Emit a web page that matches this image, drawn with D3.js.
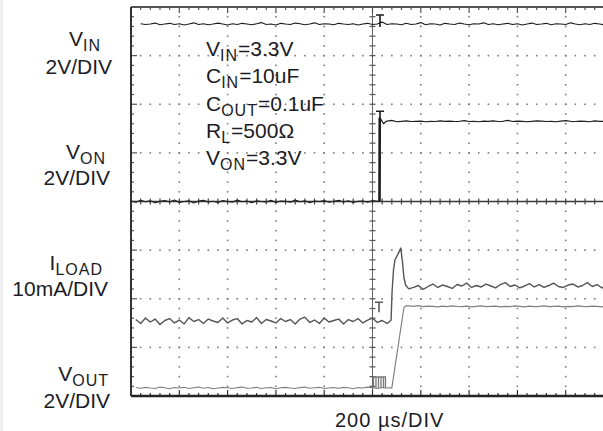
<!DOCTYPE html>
<html>
<head>
<meta charset="utf-8">
<script src="https://cdn.jsdelivr.net/npm/d3@7"></script>
<style>
html, body { margin: 0; padding: 0; background: #fff; }
svg { display: block; }
text { font-family: "Liberation Sans", Arial, sans-serif; fill: #1c1c26; }
</style>
</head>
<body>
<svg width="603" height="431"></svg>
<script>
// scope sample interval, µs
const sampleStep = 20;

// V_IN (V), samples from -960 µs
const vinStart = -960;
const vinTrace = [
    3.31,3.28,3.30,3.34,3.27,3.30,3.33,3.28,3.31,3.26,
    3.30,3.35,3.28,3.31,3.27,3.30,3.34,3.30,3.26,3.31,
    3.28,3.33,3.30,3.27,3.31,3.36,3.28,3.30,3.26,3.33,
    3.30,3.28,3.34,3.31,3.27,3.30,3.35,3.28,3.31,3.30,
    3.27,3.33,3.30,3.28,3.31,3.26,3.30,3.33,3.28,3.30,
    3.38,3.28,3.31,3.30,3.27,3.33,3.28,3.30,3.36,3.27,
    3.31,3.30,3.26,3.33,3.30,3.28,3.34,3.30,3.27,3.31,
    3.30,3.35,3.28,3.31,3.27,3.30,3.33,3.28,3.31,3.26,
    3.30,3.34,3.28,3.30,3.33,3.27,3.31,3.30,3.28,3.35,
    3.30,3.27,3.31,3.28,3.33,3.30,3.27,3.31,3.30,3.28
];

// V_ON (V): low part from -1000 µs, edge, high part from 60 µs
const vonLowStart = -1000;
const vonLow = [
    0.02,-0.03,0.05,-0.01,0.03,-0.05,0.01,0.04,-0.02,0.06,
    -0.04,0.00,0.03,-0.06,0.02,0.05,-0.02,0.01,-0.04,0.04,
    0.00,-0.03,0.06,-0.01,0.02,-0.05,0.03,0.00,-0.02,0.05,
    -0.04,0.02,0.01,-0.03,0.06,-0.01,0.03,-0.05,0.02,0.00,
    0.04,-0.03,0.01,0.05,-0.02,0.03,-0.04,0.01,0.02,-0.03,
    0.04,0.01
];
const vonEdge = [[29, 0.02], [30, 3.45], [36, 3.36], [46, 3.20], [54, 3.28]];
const vonHighStart = 60;
const vonHigh = [
    3.31,3.34,3.28,3.30,3.32,3.29,3.30,3.31,3.28,
    3.30,3.29,3.32,3.30,3.31,3.29,3.30,3.33,3.29,3.30,
    3.28,3.31,3.30,3.32,3.29,3.30,3.34,3.29,3.31,3.30,
    3.28,3.30,3.32,3.31,3.29,3.30,3.28,3.31,3.33,3.30,
    3.29,3.31,3.30,3.28,3.32,3.30,3.29,3.31,3.30
];

// I_LOAD (mA)
const iloadLowStart = -980;
const iloadLow = [
    0.3,-0.5,0.6,-0.2,0.4,-0.7,0.1,0.5,-0.4,0.2,
    -0.6,0.7,-0.1,0.3,-0.5,0.4,0.0,-0.3,0.6,-0.4,
    0.2,0.5,-0.6,0.1,-0.2,0.7,-0.5,0.3,0.0,-0.4,
    0.5,-0.1,0.3,-0.6,0.4,0.8,-0.3,0.2,-0.5,0.6,
    -0.2,0.1,0.4,-0.6,0.3,-0.1,0.5,-0.4,0.2,0.6,
    -0.3,0.1,-0.5
];
const iloadEdge = [[66, -0.3], [77, 0.2], [81, 6.0], [87, 10.5], [93, 12.6], [106, 13.8],
    [117, 15.0], [124, 12.2], [130, 9.0], [137, 7.4]];
const iloadHighStart = 150;
const iloadHigh = [
    6.6,6.9,7.3,6.5,7.1,7.6,6.9,7.4,7.1,6.7,
    7.5,7.2,7.8,6.9,7.3,7.0,7.6,7.2,6.8,7.5,
    7.9,7.1,7.4,6.8,7.2,7.7,7.0,7.5,6.9,7.3,
    7.8,7.1,6.9,7.4,7.6,7.0,7.3,7.9,7.1,7.5,
    6.8,7.3,7.6,7.2
];

// V_OUT (V)
const voutLowStart = -980;
const voutLow = [
    0.02,-0.01,0.03,0.00,-0.02,0.04,0.01,-0.03,0.02,0.00,
    0.03,-0.02,0.01,0.04,-0.01,0.02,-0.03,0.00,0.03,0.01,
    -0.02,0.02,0.04,-0.01,0.00,0.03,-0.02,0.01,0.02,-0.03,
    0.01,0.03,0.00,-0.02,0.02,0.04,-0.01,0.01,0.03,-0.02,
    0.00,0.02,-0.01,0.03,0.01,-0.03,0.02,0.00,0.04,0.01,
    -0.02,0.02,0.00
];
const voutEdge = [[70, 0.01], [80, 0.00], [130, 3.30], [137, 3.38]];
const voutHighStart = 150;
const voutHigh = [
    3.38,3.36,3.39,3.35,3.37,3.36,3.34,3.37,3.35,3.38,
    3.36,3.35,3.37,3.34,3.36,3.38,3.35,3.36,3.37,3.34,
    3.36,3.35,3.38,3.36,3.34,3.37,3.35,3.36,3.38,3.35,
    3.36,3.37,3.34,3.36,3.35,3.38,3.36,3.35,3.37,3.36,
    3.34,3.36,3.37,3.35
];

// labels
const channelNames = [["V", "IN"], ["V", "ON"], ["I", "LOAD"], ["V", "OUT"]];
const channelScales = ["2V/DIV", "2V/DIV", "10mA/DIV", "2V/DIV"];
const notes = [["V", "IN", "=3.3V"], ["C", "IN", "=10uF"], ["C", "OUT", "=0.1uF"], ["R", "L", "=500Ω"], ["V", "ON", "=3.3V"]];
const timeLabel = "200 µs/DIV";

// ---- layout
const plot = { left: 131, top: 7, divW: 48.3, divH: 48.63 };
const svg = d3.select('svg');

svg.append('rect').attr('x', 0).attr('y', 0).attr('width', 3).attr('height', 431).attr('fill', '#efefef');

const x = d3.scaleLinear()
    .domain([-1000, 1000])
    .range([plot.left, plot.left + 10 * plot.divW]);
const y = d3.scaleLinear()
    .domain([0, 8])
    .range([plot.top + 8 * plot.divH, plot.top]);

const x0 = x(-1000), x1 = x(1000), yTop = y(8), yBot = y(0);

// dotted grid
const grid = svg.append('g');
for (let i = 1; i < 10; ++i) {
    if (i === 5) continue;
    for (let k = 1; k < 40; ++k) {
        grid.append('rect')
            .attr('x', x(-1000 + i * 200) - 0.8)
            .attr('y', y(k / 5) - 0.8)
            .attr('width', 1.6).attr('height', 1.6)
            .attr('fill', '#7a7a7a');
    }
}
for (let j = 1; j < 8; ++j) {
    if (j === 4) continue;
    for (let k = 1; k < 50; ++k) {
        grid.append('rect')
            .attr('x', x(-1000 + k * 40) - 0.8)
            .attr('y', y(j) - 0.8)
            .attr('width', 1.6).attr('height', 1.6)
            .attr('fill', '#7a7a7a');
    }
}

// centre axes with minor ticks
grid.append('line').attr('x1', x(0)).attr('x2', x(0)).attr('y1', yTop).attr('y2', yBot)
    .attr('stroke', '#666').attr('stroke-width', 1);
grid.append('line').attr('x1', x0).attr('x2', x1).attr('y1', y(4)).attr('y2', y(4))
    .attr('stroke', '#3a3a3a').attr('stroke-width', 1.3);
for (let k = 1; k < 40; ++k) {
    grid.append('line').attr('x1', x(0) - 3).attr('x2', x(0) + 3)
        .attr('y1', y(k / 5)).attr('y2', y(k / 5)).attr('stroke', '#555').attr('stroke-width', 1.2);
}
for (let k = 1; k < 50; ++k) {
    const xx = x(-1000 + k * 40);
    grid.append('line').attr('x1', xx).attr('x2', xx)
        .attr('y1', y(4) - 3).attr('y2', y(4) + 3).attr('stroke', '#444').attr('stroke-width', 1.2);
    // border ticks, top and bottom
    const len = k % 5 === 0 ? 6 : 3;
    grid.append('line').attr('x1', xx).attr('x2', xx)
        .attr('y1', yTop).attr('y2', yTop + len).attr('stroke', '#555').attr('stroke-width', 1.2);
    grid.append('line').attr('x1', xx).attr('x2', xx)
        .attr('y1', yBot).attr('y2', yBot - len).attr('stroke', '#333').attr('stroke-width', 1.2);
}
for (let k = 1; k < 40; ++k) {
    const len = k % 5 === 0 ? 6 : 3;
    grid.append('line').attr('x1', x0).attr('x2', x0 + len)
        .attr('y1', y(k / 5)).attr('y2', y(k / 5)).attr('stroke', '#555').attr('stroke-width', 1.2);
}

// border
svg.append('line').attr('x1', x0).attr('x2', x1).attr('y1', yTop).attr('y2', yTop)
    .attr('stroke', '#555').attr('stroke-width', 2);
svg.append('line').attr('x1', x0).attr('x2', x1).attr('y1', yBot).attr('y2', yBot)
    .attr('stroke', '#222').attr('stroke-width', 2.4);
svg.append('line').attr('x1', x0).attr('x2', x0).attr('y1', yTop).attr('y2', yBot)
    .attr('stroke', '#333').attr('stroke-width', 2);

// ---- traces
// ground offset (divisions from bottom) and units per division
const channels = {
    vin: { offset: 6.0, perDiv: 2 },
    von: { offset: 4.0, perDiv: 2 },
    iload: { offset: 1.543, perDiv: 10 },
    vout: { offset: 0.165, perDiv: 2 }
};

const samples = (start, values) => values.map((v, i) => ({ t: start + i * sampleStep, v }));
const points = pairs => pairs.map(([t, v]) => ({ t, v }));

const series = {
    vin: samples(vinStart, vinTrace),
    von: samples(vonLowStart, vonLow).concat(points(vonEdge), samples(vonHighStart, vonHigh)),
    iload: samples(iloadLowStart, iloadLow).concat(points(iloadEdge), samples(iloadHighStart, iloadHigh)),
    vout: samples(voutLowStart, voutLow).concat(points(voutEdge), samples(voutHighStart, voutHigh))
};

const lineFor = ch => d3.line()
    .x(d => x(d.t))
    .y(d => y(channels[ch].offset + d.v / channels[ch].perDiv));

const traceStyle = {
    vin: ['#1e1e1e', 1.2],
    von: ['#1e1e1e', 1.2],
    iload: ['#555', 1.4],
    vout: ['#808080', 1.2]
};

Object.keys(series).forEach(ch => {
    svg.append('path')
        .datum(series[ch])
        .attr('fill', 'none')
        .attr('stroke', traceStyle[ch][0])
        .attr('stroke-width', traceStyle[ch][1])
        .attr('stroke-linejoin', 'round')
        .attr('d', lineFor(ch));
});

// heavier rising edge of V_ON
svg.append('path')
    .datum(points(vonEdge).slice(0, 2))
    .attr('fill', 'none').attr('stroke', '#1e1e1e').attr('stroke-width', 2.6)
    .attr('d', lineFor('von'));

// trigger / cursor markers
const tMark = 31;
const lvl = (ch, v) => y(channels[ch].offset + v / channels[ch].perDiv);
function tee(xc, yt, yb, color) {
    svg.append('path')
        .attr('d', `M${xc - 4},${yt}H${xc + 4}M${xc},${yt}V${yb}`)
        .attr('fill', 'none').attr('stroke', color).attr('stroke-width', 1.6);
}
tee(x(tMark), lvl('vin', 3.3) - 9, lvl('vin', 3.3) + 3, '#1e1e1e');
tee(x(tMark), lvl('von', 3.3) - 10, lvl('von', 3.3) + 2, '#1e1e1e');
tee(x(tMark) - 1, lvl('vout', 3.36) - 4, lvl('vout', 3.36) + 6, '#5a5a5a');
{
    const xb = x(tMark) - 6.5, yb = lvl('vout', 0);
    let d = `M${xb},${yb}V${yb - 11}H${xb + 12}V${yb}`;
    [2.5, 5, 7.5, 10].forEach(o => { d += `M${xb + o},${yb - 11}V${yb}`; });
    svg.append('path').attr('d', d).attr('fill', 'none').attr('stroke', '#7a7a7a').attr('stroke-width', 1.3);
}

// ---- text
function subText(xp, yp, parts, size, subSize, anchor) {
    const t = svg.append('text')
        .attr('x', xp).attr('y', yp)
        .attr('text-anchor', anchor)
        .style('font-size', size + 'px');
    t.append('tspan').text(parts[0]);
    t.append('tspan').attr('dy', 5).style('font-size', subSize + 'px')
        .style('letter-spacing', '1px').text(parts[1]);
    if (parts[2]) t.append('tspan').attr('dy', -5).style('font-size', size + 'px').text(parts[2]);
    return t;
}

const nameEnds = [101, 106, 103, 109];
const nameBase = [46, 159, 270, 381];
const scaleEnds = [112, 110, 108, 110];
const scaleBase = [74, 185, 296, 408];
channelNames.forEach((n, i) => {
    subText(nameEnds[i], nameBase[i], n, 21, 16, 'end');
    svg.append('text')
        .attr('x', scaleEnds[i]).attr('y', scaleBase[i])
        .attr('text-anchor', 'end')
        .style('font-size', '21px')
        .text(channelScales[i]);
});

notes.forEach((n, i) => {
    subText(206, 56 + i * 27.3, n, 21, 16, 'start');
});

svg.append('text')
    .attr('x', 335).attr('y', 427)
    .style('font-size', '20px')
    .style('letter-spacing', '1px')
    .text(timeLabel);
</script>
</body>
</html>
